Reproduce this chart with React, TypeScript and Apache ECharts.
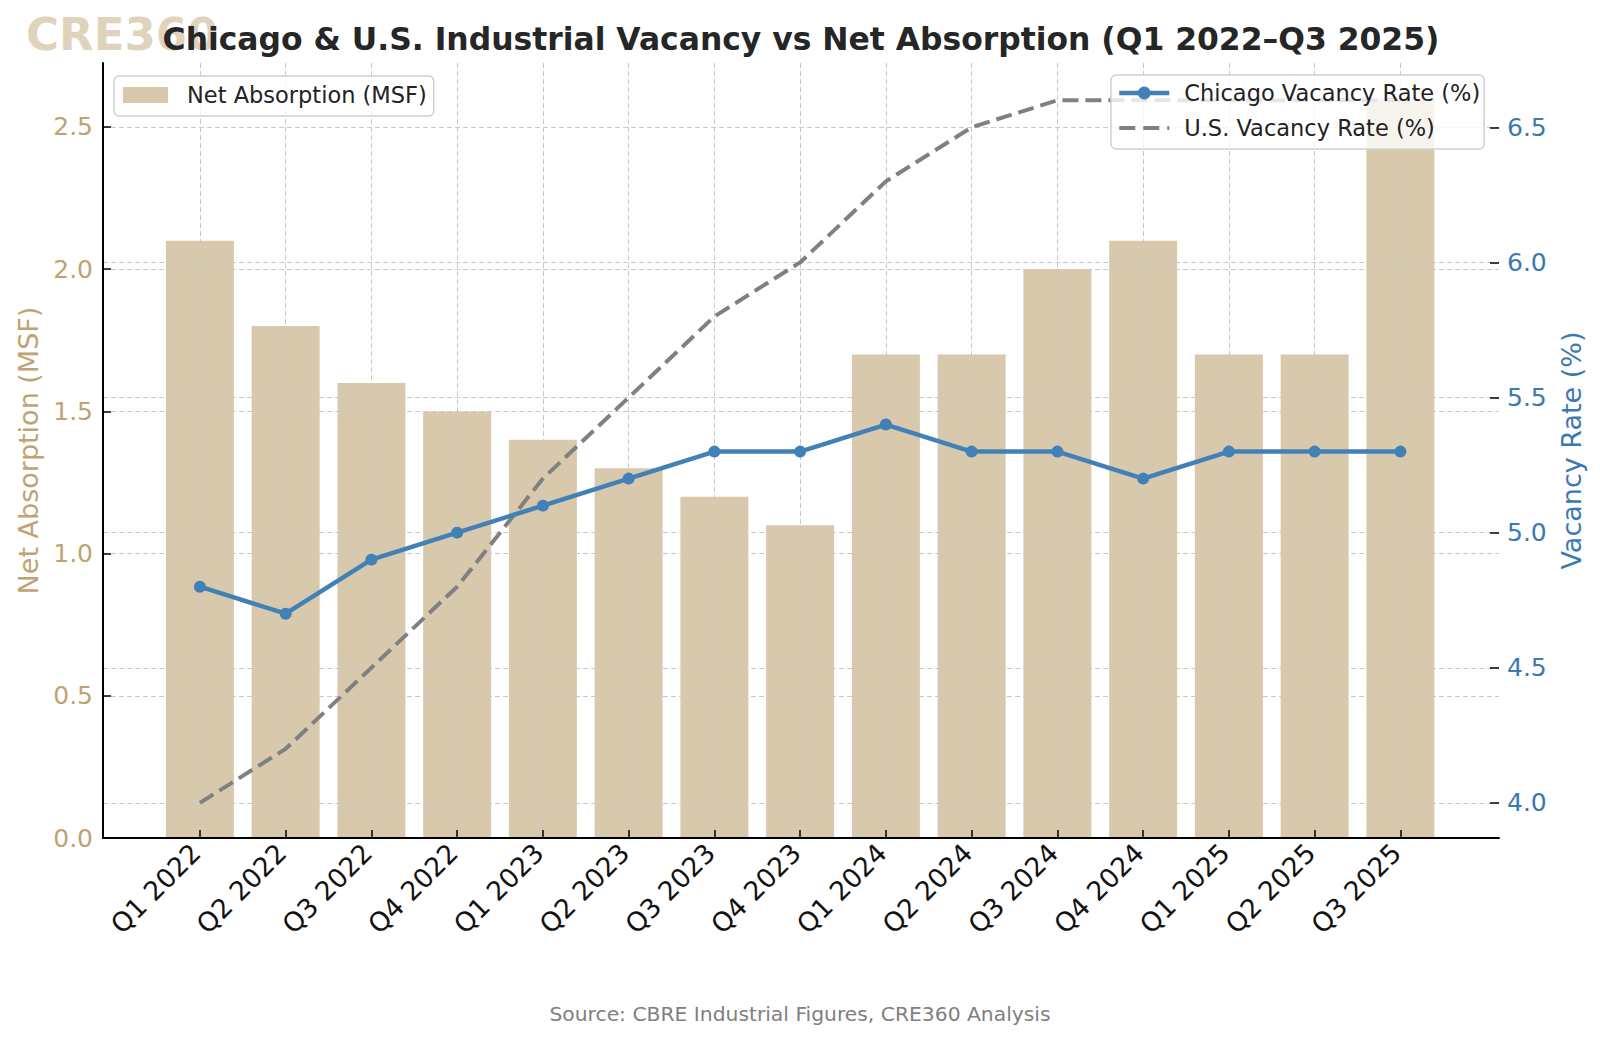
import React, { useEffect, useRef } from "react";
import * as echarts from "echarts";

const FONT = '"DejaVu Sans", "Liberation Sans", sans-serif';

const categories = [
  "Q1 2022", "Q2 2022", "Q3 2022", "Q4 2022",
  "Q1 2023", "Q2 2023", "Q3 2023", "Q4 2023",
  "Q1 2024", "Q2 2024", "Q3 2024", "Q4 2024",
  "Q1 2025", "Q2 2025", "Q3 2025",
];
const netAbsorption = [2.1, 1.8, 1.6, 1.5, 1.4, 1.3, 1.2, 1.1, 1.7, 1.7, 2.0, 2.1, 1.7, 1.7, 2.6];
const chicagoVacancy = [4.8, 4.7, 4.9, 5.0, 5.1, 5.2, 5.3, 5.3, 5.4, 5.3, 5.3, 5.2, 5.3, 5.3, 5.3];
const usVacancy = [4.0, 4.2, 4.5, 4.8, 5.2, 5.5, 5.8, 6.0, 6.3, 6.5, 6.6, 6.6, 6.6, 6.6, 6.6];
const leftTicks = [0, 0.5, 1.0, 1.5, 2.0, 2.5];
const rightTicks = [4.0, 4.5, 5.0, 5.5, 6.0, 6.5];

const TITLE = "Chicago & U.S. Industrial Vacancy vs Net Absorption (Q1 2022–Q3 2025)";
const SOURCE = "Source: CBRE Industrial Figures, CRE360 Analysis";
const WATERMARK = "CRE360";

const TAN = "#d8c9ac";
const TAN_TEXT = "#bfa373";
const BLUE = "#4281b8";
const BLUE_TEXT = "#3b79b2";
const GRAY = "#808080";
const GRID = "#c9c9c9";

export default function App() {
  const ref = useRef<HTMLDivElement>(null);
  useEffect(() => {
    if (!ref.current) return;
    const chart = echarts.init(ref.current, null, { renderer: "svg" });
    const idx = categories.map((_, i) => i);
    const splitLine = { show: true, lineStyle: { color: GRID, width: 1, type: [5, 3] } };
    const legendBox = {
      orient: "vertical",
      backgroundColor: "rgba(255,255,255,0.8)",
      borderColor: "#d0d0d0",
      borderWidth: 1.5,
      borderRadius: 5,
      z: 6,
    };
    const option: any = {
      animation: false,
      backgroundColor: "#ffffff",
      textStyle: { fontFamily: FONT },
      grid: { left: 103, right: 101, top: 63, bottom: 202, containLabel: false },
      xAxis: {
        type: "value",
        min: -1.13,
        max: 15.15,
        z: 3,
        axisLine: { show: true, onZero: false, lineStyle: { color: "#000", width: 2 } },
        axisTick: { show: true, inside: true, length: 8, customValues: idx, lineStyle: { color: "#000", width: 1.5 } },
        axisLabel: {
          customValues: idx,
          formatter: (v: number) => categories[Math.round(v)] ?? "",
          rotate: 45,
          fontSize: 26.5,
          color: "#111",
          margin: 6,
          padding: [0, 6, 0, 0],
          fontFamily: FONT,
        },
        splitLine,
      },
      yAxis: [
        {
          type: "value",
          position: "left",
          min: 0,
          max: 2.725,
          z: 3,
          name: "Net Absorption (MSF)",
          nameLocation: "middle",
          nameGap: 61,
          nameTextStyle: { color: TAN_TEXT, fontSize: 27, fontFamily: FONT },
          axisLine: { show: true, onZero: false, lineStyle: { color: "#000", width: 2 } },
          axisTick: { show: true, inside: true, length: 8, customValues: leftTicks, lineStyle: { color: "#000", width: 1.5 } },
          axisLabel: {
            customValues: leftTicks,
            formatter: (v: number) => v.toFixed(1),
            color: TAN_TEXT,
            fontSize: 25,
            margin: 10,
            fontFamily: FONT,
          },
          splitLine,
        },
        {
          type: "value",
          position: "right",
          min: 3.87,
          max: 6.738,
          z: 3,
          name: "Vacancy Rate (%)",
          nameLocation: "middle",
          nameGap: 55,
          nameTextStyle: { color: BLUE_TEXT, fontSize: 27, fontFamily: FONT },
          axisLine: { show: false, onZero: false },
          axisTick: { show: true, inside: true, length: 9, customValues: rightTicks, lineStyle: { color: "#000", width: 1.5 } },
          axisLabel: {
            customValues: rightTicks,
            formatter: (v: number) => v.toFixed(1),
            color: BLUE_TEXT,
            fontSize: 25,
            margin: 8,
            fontFamily: FONT,
          },
          splitLine,
        },
      ],
      legend: [
        {
          ...legendBox,
          data: ["Net Absorption (MSF)"],
          left: 114,
          top: 76,
          padding: [6, 7, 8, 9],
          itemWidth: 45,
          itemHeight: 16,
          icon: "rect",
          textStyle: { fontSize: 22.5, color: "#222", fontFamily: FONT, padding: [0, 0, 0, 14], lineHeight: 26 },
        },
        {
          ...legendBox,
          data: [
            {
              name: "Chicago Vacancy Rate (%)",
              lineStyle: { width: 4.5, color: BLUE },
              itemStyle: { color: BLUE },
            },
            {
              name: "U.S. Vacancy Rate (%)",
              lineStyle: { width: 4, color: GRAY, type: [16, 8] },
              itemStyle: { color: "rgba(0,0,0,0)", borderWidth: 0, opacity: 0 },
            },
          ],
          left: 1111,
          top: 75,
          itemGap: 9,
          padding: [5, 4, 8, 6],
          itemWidth: 50,
          itemHeight: 16,
          textStyle: { fontSize: 22.5, color: "#222", fontFamily: FONT, padding: [0, 0, 0, 10], lineHeight: 26 },
        },
      ],
      series: [
        {
          type: "bar",
          name: "Net Absorption (MSF)",
          xAxisIndex: 0,
          yAxisIndex: 0,
          data: netAbsorption.map((v, i) => [i, v]),
          barWidth: 68,
          itemStyle: { color: TAN },
          z: 2,
        },
        {
          type: "line",
          name: "U.S. Vacancy Rate (%)",
          xAxisIndex: 0,
          yAxisIndex: 1,
          data: usVacancy.map((v, i) => [i, v]),
          symbol: "none",
          lineStyle: { color: GRAY, width: 4, type: [16, 7] },
          itemStyle: { color: GRAY },
          z: 4,
        },
        {
          type: "line",
          name: "Chicago Vacancy Rate (%)",
          xAxisIndex: 0,
          yAxisIndex: 1,
          data: chicagoVacancy.map((v, i) => [i, v]),
          symbol: "circle",
          symbolSize: 12,
          lineStyle: { color: BLUE, width: 4.5 },
          itemStyle: { color: BLUE },
          z: 5,
        },
      ],
      graphic: [
        {
          type: "text",
          x: 26,
          y: 34,
          z: 0,
          style: {
            text: WATERMARK,
            font: `bold 45px ${FONT}`,
            fill: "#dfd3bc",
            align: "left",
            verticalAlign: "middle",
          },
        },
        {
          type: "text",
          x: 801,
          y: 38.5,
          z: 10,
          style: {
            text: TITLE,
            font: `bold 31.4px ${FONT}`,
            fill: "#262626",
            align: "center",
            verticalAlign: "middle",
          },
        },
        {
          type: "text",
          x: 800,
          y: 1014,
          z: 10,
          style: {
            text: SOURCE,
            font: `20.3px ${FONT}`,
            fill: GRAY,
            align: "center",
            verticalAlign: "middle",
          },
        },
      ],
    };
    chart.setOption(option);
    return () => chart.dispose();
  }, []);
  return (
    <div
      ref={ref}
      style={{ position: "fixed", left: 0, top: 0, width: 1600, height: 1040, background: "#fff" }}
    />
  );
}
